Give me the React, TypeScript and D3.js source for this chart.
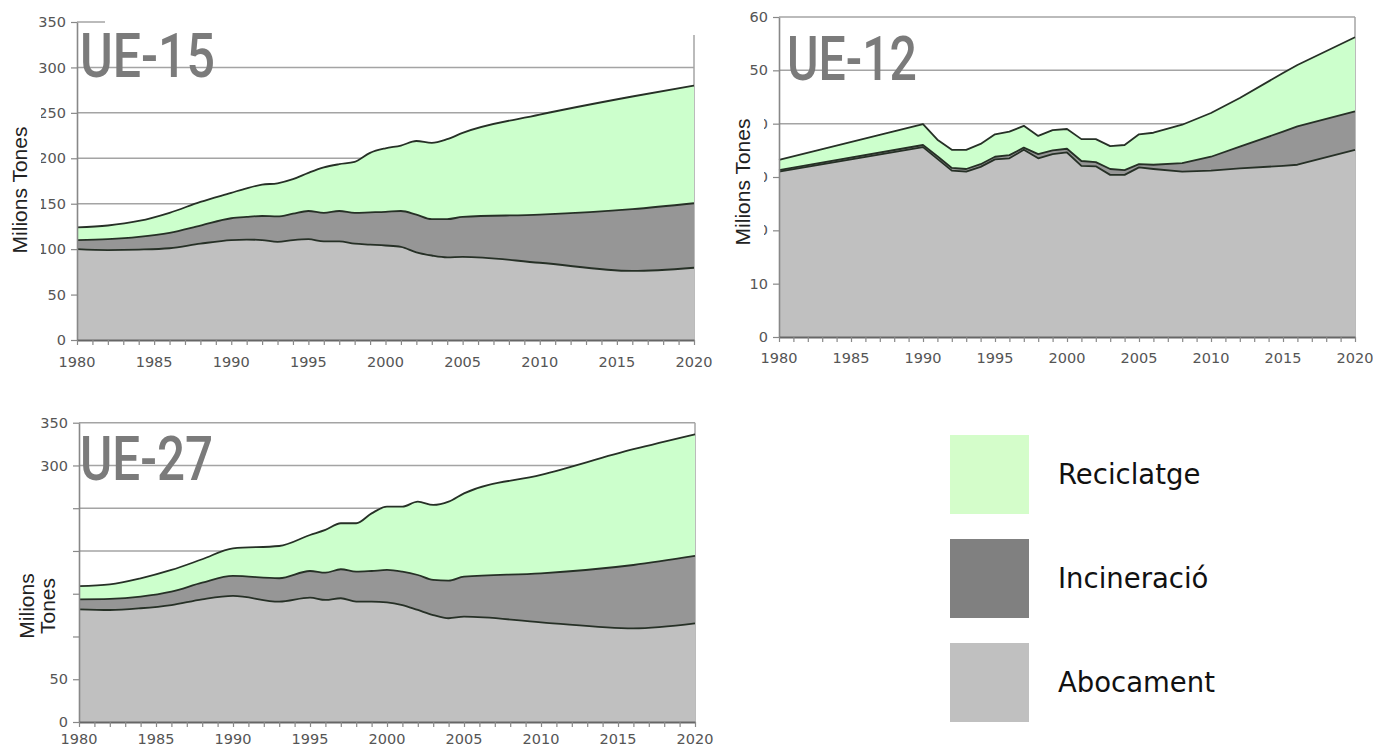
import { useEffect, useRef } from "react";
import * as d3 from "d3";

// ---- series keys / names / colours
const LAYERS = ["abocament", "incineracio", "reciclatge"];
const LEGEND_ORDER = ["Reciclatge", "Incineració", "Abocament"];
const AREA_COLORS = ["#c0c0c0", "#969696", "#ccffcc"];
const LEGEND_COLORS = ["#d4fdca", "#808080", "#c0c0c0"];

// ---- UE-15 (milions de tones)
const YEARS_UE15 = [1980, 1982, 1984, 1986, 1988, 1990, 1991, 1992, 1993, 1994, 1995, 1996, 1997, 1998, 1999, 2000, 2001, 2002, 2003, 2004, 2005, 2010, 2016, 2020];
const ABOCAMENT_UE15 = [100, 99, 99.5, 101, 106, 110, 110.5, 110, 108, 110, 111, 108.5, 108.5, 106, 105, 104, 102.5, 96.5, 93, 91, 91.5, 85, 76, 79.5];
const INCINERACIO_UE15 = [10, 12, 14, 17, 20, 24, 25, 26.5, 28, 29, 31, 31.5, 33.5, 34, 35.5, 37, 39.5, 41.5, 40, 42, 44, 53, 68, 71];
const RECICLATGE_UE15 = [14, 15, 17.5, 22, 26, 28, 31.5, 34.5, 36.5, 38, 42, 50, 51.5, 56, 65.5, 70, 72, 81, 84, 88, 92.5, 110, 124, 129.5];

// ---- UE-12
const YEARS_UE12 = [1980, 1990, 1991, 1992, 1993, 1994, 1995, 1996, 1997, 1998, 1999, 2000, 2001, 2002, 2003, 2004, 2005, 2006, 2008, 2010, 2012, 2015, 2016, 2020];
const ABOCAMENT_UE12 = [31.0, 35.6, 33.4, 31.2, 31.0, 31.9, 33.3, 33.5, 35.1, 33.5, 34.3, 34.6, 32.1, 32.0, 30.4, 30.4, 31.8, 31.5, 31.0, 31.2, 31.6, 32.1, 32.3, 35.1];
const INCINERACIO_UE12 = [0.3, 0.4, 0.5, 0.5, 0.5, 0.5, 0.5, 0.6, 0.4, 0.8, 0.7, 0.7, 0.9, 0.8, 1.1, 0.9, 0.6, 0.8, 1.6, 2.6, 4.1, 6.4, 7.2, 7.2];
const RECICLATGE_UE12 = [1.9, 3.9, 3.1, 3.4, 3.6, 3.8, 4.2, 4.4, 4.1, 3.4, 3.8, 3.7, 4.1, 4.3, 4.3, 4.7, 5.6, 6.0, 7.2, 8.2, 9.1, 11.0, 11.5, 13.9];

// ---- UE-27
const YEARS_UE27 = [1980, 1982, 1984, 1986, 1988, 1990, 1993, 1995, 1996, 1997, 1998, 1999, 2000, 2001, 2002, 2003, 2004, 2005, 2010, 2016, 2020];
const ABOCAMENT_UE27 = [131.8, 131, 133, 136.8, 143.5, 147.4, 140.7, 145.4, 142.7, 144.7, 140.7, 140.7, 140, 136.8, 131, 125.1, 121.3, 123.2, 116.6, 109.6, 115.4];
const INCINERACIO_UE27 = [11.7, 13, 13.6, 15.6, 19.4, 23.4, 27.4, 31.2, 31.9, 33.9, 35.1, 35.9, 37.8, 39, 40.9, 41, 44, 46.8, 57.3, 74, 78.8];
const RECICLATGE_UE27 = [15.5, 17, 21.4, 25.4, 27.4, 32.3, 37.7, 42.1, 50, 53.8, 56.6, 67.4, 74, 76, 85.8, 87.7, 92.4, 97.4, 115, 135.4, 142.3];

// ---- ticks
const X_YEARS = d3.range(1980, 2021);
const Y_TICKS_350 = [0, 50, 100, 150, 200, 250, 300, 350];
const Y_TICKS_60 = [0, 10, 20, 30, 40, 50, 60];

const TICK_FONT = "'DejaVu Sans', Verdana, sans-serif";
const TITLE_FONT = "Roboto, 'Liberation Sans Narrow', 'DejaVu Sans Condensed', sans-serif";

// layout of each small chart (pixels)
const PANELS = [
  {
    title: "UE-15", years: YEARS_UE15, abo: ABOCAMENT_UE15, inc: INCINERACIO_UE15, rec: RECICLATGE_UE15,
    left: 77, right: 694, top: 22, bottom: 340, yMax: 350, yTicks: Y_TICKS_350,
    topLineEnd: 105, borderTop: 35, curve: d3.curveMonotoneX,
    titleX: 80, titleY: 77, titleW: 135,
    yTitle: ["Milions Tones"], yTitleX: [19], yTitleY: 190,
    mask: { x: 0, y: 105, w: 41, h: 160 }, xLabelY: 367,
  },
  {
    title: "UE-12", years: YEARS_UE12, abo: ABOCAMENT_UE12, inc: INCINERACIO_UE12, rec: RECICLATGE_UE12,
    left: 779, right: 1355, top: 17, bottom: 337, yMax: 60, yTicks: Y_TICKS_60,
    topLineEnd: null, borderTop: 17, curve: d3.curveLinear,
    titleX: 787, titleY: 80, titleW: 130,
    yTitle: ["Milions Tones"], yTitleX: [742], yTitleY: 182,
    mask: { x: 722, y: 105, w: 42, h: 140 }, xLabelY: 363,
  },
  {
    title: "UE-27", years: YEARS_UE27, abo: ABOCAMENT_UE27, inc: INCINERACIO_UE27, rec: RECICLATGE_UE27,
    left: 79, right: 695, top: 422.7, bottom: 722, yMax: 350, yTicks: Y_TICKS_350,
    topLineEnd: null, borderTop: 422.7, curve: d3.curveMonotoneX,
    titleX: 80, titleY: 480, titleW: 133,
    yTitle: ["Milions", "Tones"], yTitleX: [26, 47], yTitleY: 606,
    mask: { x: 0, y: 487, w: 72, h: 165 }, xLabelY: 744,
  },
];

const drawPanel = (svg, p) => {
  const x = d3.scaleLinear().domain([1980, 2020]).range([p.left, p.right]);
  const y = d3.scaleLinear().domain([0, p.yMax]).range([p.bottom, p.top]);

  const rows = p.years.map((yr, i) => ({ year: yr, abocament: p.abo[i], incineracio: p.inc[i], reciclatge: p.rec[i] }));
  const series = d3.stack().keys(LAYERS)(rows);

  const g = svg.append("g");

  // gridlines (behind the areas)
  g.selectAll("line.grid")
    .data(p.yTicks.filter((t) => t > 0))
    .join("line")
    .attr("x1", p.left)
    .attr("x2", (t) => (t === p.yMax && p.topLineEnd ? p.topLineEnd : p.right))
    .attr("y1", (t) => y(t))
    .attr("y2", (t) => y(t))
    .attr("stroke", "#a4a4a4")
    .attr("stroke-width", 1.5);

  g.append("line")
    .attr("x1", p.right).attr("x2", p.right)
    .attr("y1", p.borderTop).attr("y2", p.bottom)
    .attr("stroke", "#a4a4a4").attr("stroke-width", 1.5);

  const area = d3.area()
    .curve(p.curve)
    .x((d) => x(d.data.year))
    .y0((d) => y(d[0]))
    .y1((d) => y(d[1]));
  const edge = d3.line()
    .curve(p.curve)
    .x((d) => x(d.data.year))
    .y((d) => y(d[1]));

  g.selectAll("path.layer").data(series).join("path")
    .attr("d", area)
    .attr("fill", (d, i) => AREA_COLORS[i]);
  g.selectAll("path.edge").data(series).join("path")
    .attr("d", edge)
    .attr("fill", "none")
    .attr("stroke", "#263026")
    .attr("stroke-width", 1.8)
    .attr("stroke-linejoin", "round");

  // y axis
  const yAxis = g.append("g")
    .attr("transform", `translate(${p.left},0)`)
    .call(d3.axisLeft(y).tickValues(p.yTicks).tickSize(6).tickSizeOuter(0).tickPadding(5).tickFormat(d3.format("d")));
  yAxis.select(".domain").attr("stroke", "#888").attr("stroke-width", 1.6);
  yAxis.selectAll(".tick line").attr("stroke", "#888").attr("stroke-width", 1.2);
  yAxis.selectAll("text").attr("fill", "#555").style("font-family", TICK_FONT).style("font-size", "14.5px");

  // x axis: a tick every year, a label every 5 years
  const xAxis = g.append("g")
    .attr("transform", `translate(0,${p.bottom})`)
    .call(d3.axisBottom(x).tickValues(X_YEARS).tickSize(5).tickSizeOuter(0).tickFormat(() => ""));
  xAxis.select(".domain").attr("stroke", "#666").attr("stroke-width", 1.8);
  xAxis.selectAll(".tick line").attr("stroke", "#888").attr("stroke-width", 1.2);

  g.selectAll("text.xlab")
    .data(X_YEARS.filter((v) => v % 5 === 0))
    .join("text")
    .attr("x", (v) => x(v))
    .attr("y", p.xLabelY)
    .attr("text-anchor", "middle")
    .attr("fill", "#555")
    .style("font-family", TICK_FONT)
    .style("font-size", "14.5px")
    .text((v) => v);

  // white box behind the axis title (hides some tick labels like the source)
  g.append("rect")
    .attr("x", p.mask.x).attr("y", p.mask.y)
    .attr("width", p.mask.w).attr("height", p.mask.h)
    .attr("fill", "#fff");

  p.yTitle.forEach((line, i) => {
    g.append("text")
      .attr("transform", `translate(${p.yTitleX[i]},${p.yTitleY}) rotate(-90)`)
      .attr("text-anchor", "middle")
      .attr("dominant-baseline", "central")
      .attr("fill", "#222")
      .style("font-family", "'Liberation Sans', Arial, sans-serif")
      .style("font-size", "21px")
      .text(line);
  });

  g.append("text")
    .attr("x", p.titleX)
    .attr("y", p.titleY)
    .attr("textLength", p.titleW)
    .attr("lengthAdjust", "spacingAndGlyphs")
    .attr("fill", "#7b7b7b")
    .style("font-family", TITLE_FONT)
    .style("font-weight", 500)
    .style("font-size", "62px")
    .text(p.title);
};

export default function App() {
  const svgRef = useRef(null);

  useEffect(() => {
    const svg = d3.select(svgRef.current);
    svg.selectAll("*").remove();

    PANELS.forEach((p) => drawPanel(svg, p));

    // legend
    const lg = svg.append("g").attr("transform", "translate(950,435)");
    const rowH = 104;
    lg.selectAll("rect").data(LEGEND_ORDER).join("rect")
      .attr("x", 0)
      .attr("y", (d, i) => i * rowH)
      .attr("width", 79)
      .attr("height", 79)
      .attr("fill", (d, i) => LEGEND_COLORS[i]);
    lg.selectAll("text").data(LEGEND_ORDER).join("text")
      .attr("x", 108)
      .attr("y", (d, i) => i * rowH + 39)
      .attr("dominant-baseline", "central")
      .attr("fill", "#111")
      .style("font-family", TICK_FONT)
      .style("font-size", "27.5px")
      .text((d) => d);
  }, []);

  return (
    <div style={{ position: "absolute", left: 0, top: 0 }}>
      <svg ref={svgRef} width={1373} height={748} style={{ display: "block", background: "#fff" }} />
    </div>
  );
}
